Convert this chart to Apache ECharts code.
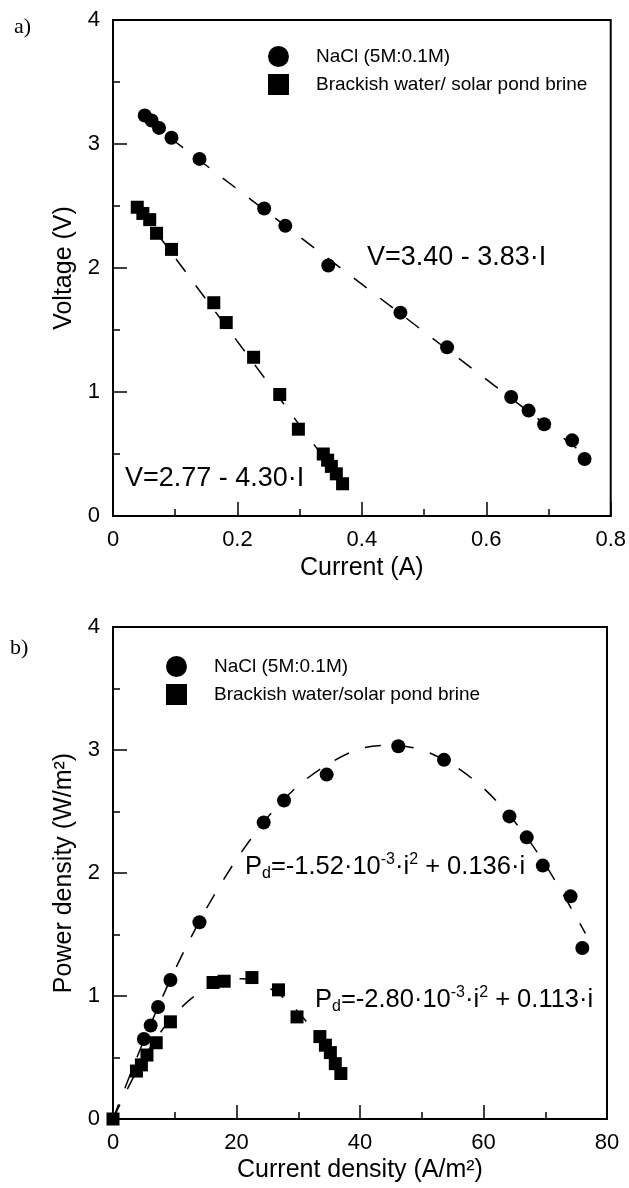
<!DOCTYPE html>
<html>
<head>
<meta charset="utf-8">
<script src="https://cdn.jsdelivr.net/npm/echarts@6.0.0/dist/echarts.min.js"></script>
<style>
  html, body { margin: 0; padding: 0; background: #fff; }
  #chart { width: 629px; height: 1188px; }
</style>
</head>
<body>
<div id="chart"></div>
<script>
// a) voltage vs current
const naclI = [0.051, 0.062, 0.074, 0.094, 0.139, 0.243, 0.277, 0.346, 0.462, 0.537, 0.640, 0.668, 0.693, 0.738, 0.758];
const naclV = [3.23, 3.19, 3.13, 3.05, 2.88, 2.48, 2.34, 2.02, 1.64, 1.36, 0.96, 0.85, 0.74, 0.61, 0.46];
const brineI = [0.039, 0.048, 0.059, 0.070, 0.094, 0.162, 0.182, 0.226, 0.268, 0.298, 0.338, 0.345, 0.351, 0.359, 0.369];
const brineV = [2.49, 2.44, 2.39, 2.28, 2.15, 1.72, 1.56, 1.28, 0.98, 0.70, 0.50, 0.45, 0.40, 0.34, 0.26];
// dashed fit lines (end points)
const naclFitI = [0.05, 0.765];
const naclFitV = [3.21, 0.47];
const brineFitI = [0.038, 0.37];
const brineFitV = [2.50, 0.26];

// b) power density vs current density
const naclJ = [5.0, 6.1, 7.3, 9.3, 14.0, 24.4, 27.7, 34.6, 46.2, 53.6, 64.2, 67.0, 69.6, 74.1, 76.0];
const naclP = [0.65, 0.76, 0.91, 1.13, 1.60, 2.41, 2.59, 2.80, 3.03, 2.92, 2.46, 2.29, 2.06, 1.81, 1.39];
const brineJ = [0, 3.8, 4.6, 5.5, 7.0, 9.3, 16.2, 18.0, 22.5, 26.8, 29.8, 33.5, 34.4, 35.2, 36.0, 36.9];
const brineP = [0, 0.39, 0.44, 0.52, 0.62, 0.79, 1.11, 1.12, 1.15, 1.05, 0.83, 0.67, 0.60, 0.54, 0.45, 0.37];
// dashed fit curves
const naclFitJ = [0, 5, 10, 15, 20, 25, 30, 35, 40, 45, 50, 55, 60, 65, 70, 76.5];
const naclFitP = [0, 0.64, 1.21, 1.70, 2.11, 2.45, 2.71, 2.89, 3.01, 3.04, 3.00, 2.88, 2.69, 2.42, 2.07, 1.51];
const brineFitJ = [0, 3, 6, 9, 12, 15, 18, 21, 24, 27, 30, 33, 36, 37.2];
const brineFitP = [0, 0.31, 0.58, 0.79, 0.95, 1.06, 1.13, 1.14, 1.10, 1.01, 0.87, 0.68, 0.44, 0.33];

const NACL = "NaCl (5M:0.1M)";
const BRINE_A = "Brackish water/ solar pond brine";
const BRINE_B = "Brackish water/solar pond brine";

const FONT = "Liberation Sans, Arial, sans-serif";
const zip = (xs, ys) => xs.map((x, i) => [x, ys[i]]);

function axis(gridIndex, min, max, interval, name, nameGap) {
  return {
    type: "value",
    gridIndex: gridIndex,
    min: min,
    max: max,
    interval: interval,
    name: name,
    nameLocation: "middle",
    nameGap: nameGap,
    nameTextStyle: { fontSize: 25, color: "#000", fontFamily: FONT },
    axisLine: { show: true, lineStyle: { color: "#000", width: 2 } },
    axisTick: { show: true, inside: true, length: 14, lineStyle: { color: "#000", width: 1.5 } },
    minorTick: { show: true, splitNumber: 2, length: 7, lineStyle: { color: "#000", width: 1.5 } },
    splitLine: { show: false },
    minorSplitLine: { show: false },
    axisLabel: { fontSize: 22, color: "#000", fontFamily: FONT, margin: 13 },
  };
}

function dots(name, xi, yi, data, symbol, size) {
  return {
    name: name,
    type: "scatter",
    xAxisIndex: xi,
    yAxisIndex: yi,
    data: data,
    symbol: symbol,
    symbolSize: size,
    itemStyle: { color: "#000", opacity: 1 },
    z: 3,
  };
}

function fit(xi, yi, data, smooth) {
  return {
    type: "line",
    xAxisIndex: xi,
    yAxisIndex: yi,
    data: data,
    smooth: smooth,
    showSymbol: false,
    symbol: "none",
    silent: true,
    lineStyle: { color: "#000", width: 1.5, type: [16, 17] },
    z: 2,
  };
}

function legend(left, top, names) {
  return {
    left: left,
    top: top,
    orient: "vertical",
    padding: 0,
    itemWidth: 21,
    itemHeight: 21,
    itemGap: 7,
    selectedMode: false,
    data: [
      { name: names[0], icon: "circle" },
      { name: names[1], icon: "rect" },
    ],
    itemStyle: { color: "#000" },
    textStyle: { fontSize: 19, color: "#000", fontFamily: FONT, padding: [0, 0, 0, 22] },
  };
}

function eq(x, y, text, size) {
  return {
    type: "text",
    x: x,
    y: y,
    z: 10,
    style: {
      text: text,
      verticalAlign: "middle",
      rich: {
        n: { fontSize: size, lineHeight: 30, fontFamily: FONT, fill: "#000" },
        sup: { fontSize: 16, lineHeight: 17, verticalAlign: "top", fontFamily: FONT, fill: "#000" },
        sub: { fontSize: 16, lineHeight: 17, verticalAlign: "bottom", fontFamily: FONT, fill: "#000" },
      },
    },
  };
}

var chartDom = document.getElementById("chart");
var myChart = echarts.init(chartDom, null, { renderer: "canvas" });

var option = {
  backgroundColor: "#fff",
  animation: false,
  grid: [
    { left: 113, right: 17, top: 20, height: 496, show: true, borderColor: "#000", borderWidth: 2, backgroundColor: "transparent" },
    { left: 113, right: 22, top: 627, height: 492, show: true, borderColor: "#000", borderWidth: 2, backgroundColor: "transparent" },
  ],
  xAxis: [
    axis(0, 0, 0.8, 0.2, "Current (A)", 40),
    axis(1, 0, 80, 20, "Current density (A/m\u00b2)", 39),
  ],
  yAxis: [
    axis(0, 0, 4, 1, "Voltage (V)", 31),
    axis(1, 0, 4, 1, "Power density (W/m\u00b2)", 31),
  ],
  legend: [
    legend(268, 46, [NACL, BRINE_A]),
    legend(166, 656, [NACL, BRINE_B]),
  ],
  graphic: [
    { type: "text", x: 14, y: 27, style: { text: "a)", font: '22px "Liberation Serif", serif', fill: "#000", verticalAlign: "middle" } },
    { type: "text", x: 10, y: 648, style: { text: "b)", font: '22px "Liberation Serif", serif', fill: "#000", verticalAlign: "middle" } },
    eq(367, 258, "{n|V=3.40 - 3.83\u00b7I}", 27),
    eq(125, 479, "{n|V=2.77 - 4.30\u00b7I}", 27),
    eq(245, 867, "{n|P}{sub|d}{n|=-1.52\u00b710}{sup|-3}{n|\u00b7i}{sup|2}{n| + 0.136\u00b7i}", 25.5),
    eq(315, 1000, "{n|P}{sub|d}{n|=-2.80\u00b710}{sup|-3}{n|\u00b7i}{sup|2}{n| + 0.113\u00b7i}", 25.5),
  ],
  series: [
    dots(NACL, 0, 0, zip(naclI, naclV), "circle", 14),
    dots(BRINE_A, 0, 0, zip(brineI, brineV), "rect", 13),
    fit(0, 0, zip(naclFitI, naclFitV), false),
    fit(0, 0, zip(brineFitI, brineFitV), false),
    dots(NACL, 1, 1, zip(naclJ, naclP), "circle", 14),
    dots(BRINE_B, 1, 1, zip(brineJ, brineP), "rect", 13),
    fit(1, 1, zip(naclFitJ, naclFitP), 0.3),
    fit(1, 1, zip(brineFitJ, brineFitP), 0.3),
  ],
};

option && myChart.setOption(option);
</script>
</body>
</html>
